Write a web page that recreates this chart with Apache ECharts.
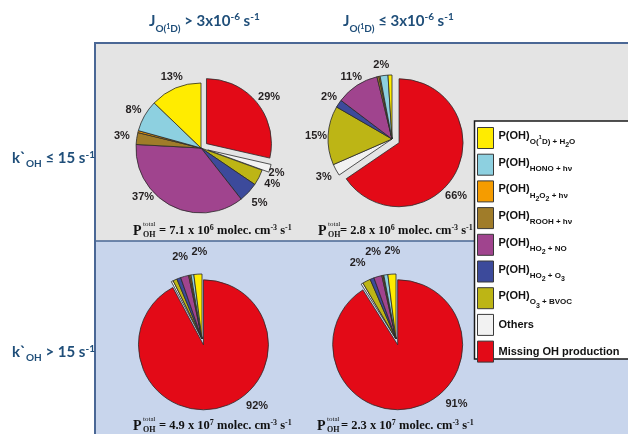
<!DOCTYPE html>
<html><head><meta charset="utf-8">
<script src="https://cdn.jsdelivr.net/npm/echarts@6/dist/echarts.min.js"></script>
<style>html,body{margin:0;padding:0;background:#fff}#c{width:628px;height:434px}</style>
</head><body><div id="c"></div>
<script>
// Categories in clockwise drawing order (starting at 12 o'clock)
const categories = ['Missing OH production', 'Others', 'P(OH) O3 + BVOC', 'P(OH) HO2 + O3', 'P(OH) HO2 + NO',
  'P(OH) ROOH + hν', 'P(OH) H2O2 + hν', 'P(OH) HONO + hν', 'P(OH) O(1D) + H2O'];
const colors = ['#e30a17', '#f2f2f2', '#bdb515', '#3c4a9b', '#a0448e', '#a07c29', '#f59c00', '#8dd0e0', '#ffec00'];

// Percentages
const pieTopLeft     = [29, 2, 4, 5, 37, 3, 0.5, 8, 13];
const pieTopRight    = [66, 3, 15, 2, 11, 0.5, 0.3, 2, 1];
const pieBottomLeft  = [92, 0.5, 1, 1, 2, 0.3, 0.3, 0.7, 2];
const pieBottomRight = [91, 0.5, 2, 1, 2, 0.3, 0.2, 1, 2];

// Printed labels
const labelsTopLeft     = ['29%', '2%', '4%', '5%', '37%', '3%', '', '8%', '13%'];
const labelsTopRight    = ['66%', '3%', '15%', '2%', '11%', '', '', '2%', ''];
const labelsBottomLeft  = ['92%', '', '', '', '2%', '', '', '', '2%'];
const labelsBottomRight = ['91%', '', '2%', '', '2%', '', '', '', '2%'];

const totalMantissa = ['7.1', '2.8', '4.9', '2.3'];
const totalExponent = ['6', '6', '7', '7'];

const legendText = {
  'P(OH) O(1D) + H2O': '{m|P(OH)}{s|O(}{sp|1}{s|D) + H}{ss|2}{s|O}',
  'P(OH) HONO + hν': '{m|P(OH)}{s|HONO + hν}',
  'P(OH) H2O2 + hν': '{m|P(OH)}{s|H}{ss|2}{s|O}{ss|2}{s| + hν}',
  'P(OH) ROOH + hν': '{m|P(OH)}{s|ROOH + hν}',
  'P(OH) HO2 + NO': '{m|P(OH)}{s|HO}{ss|2}{s| + NO}',
  'P(OH) HO2 + O3': '{m|P(OH)}{s|HO}{ss|2}{s| + O}{ss|3}',
  'P(OH) O3 + BVOC': '{m|P(OH)}{s|O}{ss|3}{s| + BVOC}',
  'Others': '{o|Others}',
  'Missing OH production': '{o|Missing OH production}'
};

// Layout of each pie, plus label nudges (pixel offsets by slice index)
const pies = [
  {values: pieTopLeft, labels: labelsTopLeft, center: [201, 148], r: 65, ring: 12, off: 7, sel: [0, 1],
    nudge: {0: [0, 3], 1: [-8, 0], 4: [-21, -22], 7: [2, 2], 8: [2, 3]}},
  {values: pieTopRight, labels: labelsTopRight, center: [392, 139], r: 64, ring: 11, off: 8, sel: [0],
    nudge: {0: [-12, 17], 3: [2, 1], 7: [-1, 3], 4: [2, 3], 2: [2, 1]}},
  {values: pieBottomLeft, labels: labelsBottomLeft, center: [202, 339], r: 65, ring: 21, off: 6, sel: [0],
    nudge: {0: [32, -25], 4: [2, 4], 8: [3, 2]}},
  {values: pieBottomRight, labels: labelsBottomRight, center: [396, 339], r: 65, ring: 21, off: 6, sel: [0],
    nudge: {0: [34, -26], 2: [2, 3], 4: [2, -2], 8: [2, 1]}}
];

const series = [];
pies.forEach(p => {
  series.push({
    type: 'pie', center: p.center, radius: [0, p.r], startAngle: 90, clockwise: true,
    selectedMode: 'multiple', selectedOffset: p.off, label: {show: false}, labelLine: {show: false},
    emphasis: {disabled: true}, z: 2,
    data: categories.map((n, i) => ({name: n, value: p.values[i], selected: p.sel.includes(i),
      itemStyle: {color: colors[i], borderColor: '#2a2a2a', borderWidth: 0.8}}))
  });
});
pies.forEach(p => {
  series.push({
    type: 'pie', center: p.center, radius: [p.r + p.ring - 8, p.r + p.ring + 8], startAngle: 90, clockwise: true,
    selectedMode: 'multiple', selectedOffset: p.off, silent: true, legendHoverLink: false,
    emphasis: {disabled: true}, labelLine: {show: false}, z: 3,
    label: {show: true, position: 'inside', color: '#231f20', fontFamily: 'Liberation Sans, Arial, sans-serif',
      fontWeight: 'bold', fontSize: 11, formatter: q => p.labels[q.dataIndex]},
    labelLayout: prm => {
      const n = p.nudge[prm.dataIndex];
      return n ? {dx: n[0], dy: n[1], hideOverlap: false} : {hideOverlap: false};
    },
    data: categories.map((n, i) => ({name: n, value: p.values[i], selected: p.sel.includes(i),
      itemStyle: {color: 'rgba(0,0,0,0)', borderWidth: 0},
      label: {show: p.labels[i] !== ''}}))
  });
});

const blue = '#1f4e79';
const hf = 'Lato, "Noto Sans", sans-serif';
const hdrRich = {
  m: {fontSize: 15, fontWeight: 'bold', fontFamily: hf, fill: blue},
  s: {fontSize: 10, fontWeight: 'bold', fontFamily: hf, fill: blue, padding: [16, 0, 0, 0]},
  sp: {fontSize: 7, fontWeight: 'bold', fontFamily: hf, fill: blue, padding: [12, 0, 0, 0]},
  u: {fontSize: 10, fontWeight: 'bold', fontFamily: hf, fill: blue, padding: [0, 0, 8, 0]}
};
const rowRich = {
  m: {fontSize: 15, fontWeight: 'bold', fontFamily: hf, fill: blue},
  s: {fontSize: 10, fontWeight: 'bold', fontFamily: hf, fill: blue, padding: [12, 0, 0, 0]},
  u: {fontSize: 10, fontWeight: 'bold', fontFamily: hf, fill: blue, padding: [0, 0, 6, 0]}
};
const serif = '"Liberation Serif", "Times New Roman", serif';
const totRich = {
  m: {fontSize: 12.5, fontWeight: 'bold', fontFamily: serif, fill: '#111'},
  u: {fontSize: 8, fontWeight: 'bold', fontFamily: serif, fill: '#111', padding: [0, 0, 7, 0]}
};

const graphic = [
  {type: 'rect', shape: {x: 94, y: 43, width: 534, height: 198}, style: {fill: '#e4e4e4'}, z: 0},
  {type: 'rect', shape: {x: 94, y: 241, width: 534, height: 193}, style: {fill: '#c8d5ec'}, z: 0},
  {type: 'line', shape: {x1: 94, y1: 43, x2: 628, y2: 43}, style: {stroke: '#4a6795', lineWidth: 2}, z: 1},
  {type: 'line', shape: {x1: 95, y1: 42, x2: 95, y2: 434}, style: {stroke: '#4a6795', lineWidth: 2}, z: 1},
  {type: 'line', shape: {x1: 94, y1: 241, x2: 628, y2: 241}, style: {stroke: '#4a6795', lineWidth: 1.5}, z: 1},
  {type: 'rect', shape: {x: 474.5, y: 121, width: 160, height: 238}, style: {fill: '#fff', stroke: '#1a1a1a', lineWidth: 1.5}, z: 3},
  {type: 'text', z: 10, style: {x: 149, y: 21, verticalAlign: 'middle', rich: hdrRich,
    text: '{m|J}{s|O(}{sp|1}{s|D)}{m| > 3x10}{u|-6}{m| s}{u|-1}'}},
  {type: 'text', z: 10, style: {x: 343, y: 21, verticalAlign: 'middle', rich: hdrRich,
    text: '{m|J}{s|O(}{sp|1}{s|D)}{m| ≤ 3x10}{u|-6}{m| s}{u|-1}'}},
  {type: 'text', z: 10, style: {x: 12, y: 158, verticalAlign: 'middle', rich: rowRich,
    text: '{m|k`}{s|OH}{m| ≤ 15 s}{u|-1}'}},
  {type: 'text', z: 10, style: {x: 12, y: 352, verticalAlign: 'middle', rich: rowRich,
    text: '{m|k`}{s|OH}{m| > 15 s}{u|-1}'}}
];
const totPos = [[133, 231, 26], [318, 231, 22], [133, 426, 26], [317, 426, 24]];
totPos.forEach((pos, i) => {
  const [x, y, eq] = pos;
  graphic.push({type: 'text', z: 10, style: {x: x, y: y, verticalAlign: 'middle', text: 'P', fontSize: 14, fontWeight: 'bold', fontFamily: serif, fill: '#111'}});
  graphic.push({type: 'text', z: 10, style: {x: x + 10, y: y - 6.5, verticalAlign: 'middle', text: 'total', fontSize: 7, fontFamily: serif, fill: '#111'}});
  graphic.push({type: 'text', z: 10, style: {x: x + 10, y: y + 4, verticalAlign: 'middle', text: 'OH', fontSize: 8, fontWeight: 'bold', fontFamily: serif, fill: '#111'}});
  graphic.push({type: 'text', z: 10, style: {x: x + eq, y: y, verticalAlign: 'middle', rich: totRich,
    text: '{m|= ' + totalMantissa[i] + ' x 10}{u|' + totalExponent[i] + '}{m| molec. cm}{u|-3}{m| s}{u|-1}'}});
});

const lf = 'Liberation Sans, Arial, sans-serif';
const chart = echarts.init(document.getElementById('c'));
chart.setOption({
  animation: false,
  graphic: graphic,
  legend: {
    orient: 'vertical', left: 477, top: 127, padding: 0, itemWidth: 16, itemHeight: 21, itemGap: 4.7,
    icon: 'rect', selectedMode: false, z: 5,
    data: categories.slice().reverse(),
    itemStyle: {borderColor: '#3a3a3a', borderWidth: 1},
    formatter: n => legendText[n],
    textStyle: {
      rich: {
        m: {fontSize: 11, fontWeight: 'bold', fontFamily: lf, color: '#111', padding: [0, 0, 4, 0]},
        o: {fontSize: 11, fontWeight: 'bold', fontFamily: lf, color: '#111'},
        s: {fontSize: 8, fontWeight: 'bold', fontFamily: lf, color: '#111', padding: [8, 0, 0, 0]},
        ss: {fontSize: 7, fontWeight: 'bold', fontFamily: lf, color: '#111', padding: [15, 0, 0, 0]},
        sp: {fontSize: 6, fontWeight: 'bold', fontFamily: lf, color: '#111', padding: [0, 0, 2, 0]}
      }
    }
  },
  series: series
});
</script></body></html>
